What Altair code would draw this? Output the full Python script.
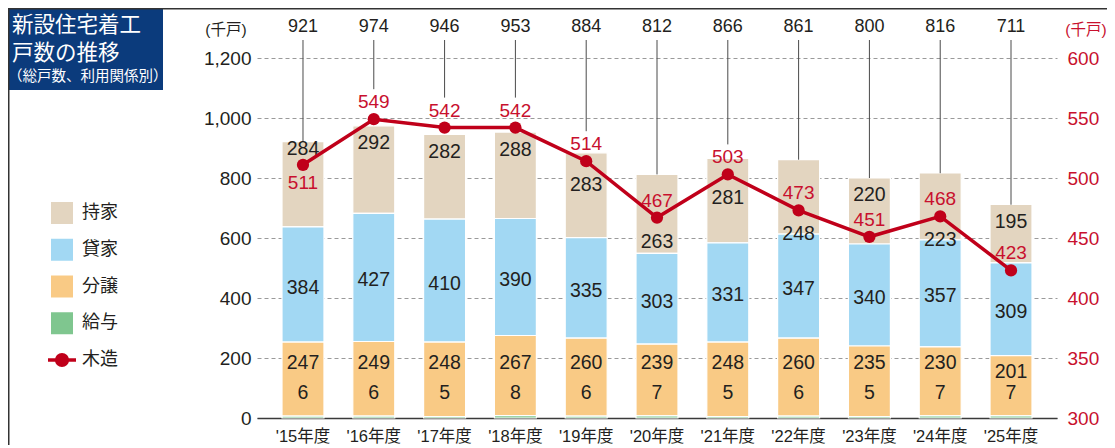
import altair as alt
import pandas as pd

# ---------------- data ----------------
years = ["'15年度", "'16年度", "'17年度", "'18年度", "'19年度", "'20年度",
         "'21年度", "'22年度", "'23年度", "'24年度", "'25年度"]
totals = [921, 974, 946, 953, 884, 812, 866, 861, 800, 816, 711]
own = [284, 292, 282, 288, 283, 263, 281, 248, 220, 223, 195]        # 持家
rent = [384, 427, 410, 390, 335, 303, 331, 347, 340, 357, 309]       # 貸家
sale = [247, 249, 248, 267, 260, 239, 248, 260, 235, 230, 201]       # 分譲
company = [6, 6, 5, 8, 6, 7, 5, 6, 5, 7, 7]                          # 給与
wood = [511, 549, 542, 542, 514, 467, 503, 473, 451, 468, 423]       # 木造

series_keys = ["own", "rent", "sale", "company"]
series_names = ["持家", "貸家", "分譲", "給与"]
line_name = "木造"
left_ticks = [0, 200, 400, 600, 800, 1000, 1200]
right_ticks = [300, 350, 400, 450, 500, 550, 600]
unit_label = "(千戸)"
title_lines = ["新設住宅着工", "戸数の推移"]
subtitle = "（総戸数、利用関係別）"

# ---------------- styles ----------------
colors = ["#e3d5c0", "#a2d8f3", "#f9ca85", "#7fc68f"]
RED = "#c0001a"
RED_TEXT = "#c8102e"
NAVY = "#0b3b7c"
TEXT = "#231f20"
FONT = "Liberation Sans, Noto Sans CJK JP, sans-serif"
JFONT = "Noto Sans CJK JP, sans-serif"

df = pd.DataFrame({"year": years, "own": own, "rent": rent, "sale": sale,
                   "company": company, "total": totals, "wood": wood})
legend_names = series_names + [line_name]
color_scale = alt.Scale(domain=legend_names, range=colors + [RED])

X = alt.X("year:N", sort=years, title=None,
          scale=alt.Scale(paddingInner=0.407, paddingOuter=0.353),
          axis=alt.Axis(labelFont=FONT, labelFontSize=16.5, labelColor=TEXT,
                        labelPadding=10, labelAngle=0, ticks=False,
                        domainColor="#3a3a3a", domainWidth=1.6, grid=False))

YL_scale = alt.Scale(domain=[0, 1200], nice=False, zero=True)
YL_axis = alt.Axis(values=left_ticks, format=",.0f", labelFont=FONT, labelFontSize=19,
                   labelColor=TEXT, labelPadding=6, ticks=False, domain=False,
                   grid=True, gridColor="#9a9a9a", gridDash=[4, 3], gridWidth=1,
                   title=None)


def YL(field):
    return alt.Y(field, type="quantitative", scale=YL_scale, axis=YL_axis)


YR_scale = alt.Scale(domain=[300, 600], nice=False, zero=False)
YR_axis = alt.Axis(orient="right", values=right_ticks, format=".0f", labelFont=FONT,
                   labelFontSize=19, labelColor=RED_TEXT, labelPadding=10, ticks=False,
                   domain=False, grid=False, title=None)


def YR(field):
    return alt.Y(field, type="quantitative", scale=YR_scale, axis=YR_axis)


# label placement rules (derived from the values, in data units of the left axis)
base = alt.Chart(df).transform_calculate(
    top="datum.own + datum.rent + datum.sale + datum.company",
    wp="(datum.wood - 300) * 4",
).transform_calculate(
    d="datum.top - 40 - datum.wp",
    ownTop="datum.top - 58",
).transform_calculate(
    redBelow="datum.d > 25 && datum.d < 55",
    conflict="abs(datum.ownTop - datum.wp) < 70 || abs(datum.ownTop - datum.wp - 57) < 75",
).transform_calculate(
    ownLab="datum.redBelow ? datum.top - 25 : (datum.conflict ? datum.wp - 80 : datum.ownTop)",
    leadEnd="datum.redBelow ? datum.total : max(datum.total, datum.wp + 100)",
    redLab="datum.redBelow ? datum.wood - 15 : datum.wood + 14.2",
    zero="0",
    saleLab="min(datum.company + datum.sale - 55, 185)",
    rentMid="datum.company + datum.sale + datum.rent / 2",
)

# ---------------- left group (bars) ----------------
bars = alt.Chart(df).transform_fold(
    series_keys, as_=["key", "value"]
).transform_calculate(
    kind="{'own': '持家', 'rent': '貸家', 'sale': '分譲', 'company': '給与'}[datum.key]",
    ord="indexof(['company', 'sale', 'rent', 'own'], datum.key)",
).transform_stack(
    stack="value", groupby=["year"], as_=["v0", "v1"],
    sort=[alt.SortField("ord", order="ascending")]
).mark_bar(stroke="white", strokeWidth=1.2).encode(
    x=X, y=YL("v0"), y2="v1:Q",
    color=alt.Color("kind:N", scale=color_scale, legend=None),
)

txt = dict(font=FONT, fontSize=19.5, color=TEXT, baseline="middle")
lab_company = base.mark_text(dy=-25, **txt).encode(x=X, y=YL("zero"), text="company:Q")
lab_sale = base.mark_text(**txt).encode(x=X, y=YL("saleLab"), text="sale:Q")
lab_rent = base.mark_text(dy=3, **txt).encode(x=X, y=YL("rentMid"), text="rent:Q")
lab_own = base.mark_text(**txt).encode(x=X, y=YL("ownLab"), text="own:Q")

leaders = base.mark_rule(color="#4a4a4a", strokeWidth=1).encode(
    x=X, y=YL("leadEnd"), y2=alt.value(-18))
total_lab = base.mark_text(font=FONT, fontSize=18, color=TEXT, baseline="middle").encode(
    x=X, y=alt.value(-31), text="total:Q")

left = alt.layer(bars, leaders, lab_company, lab_sale, lab_rent, lab_own, total_lab)

# ---------------- right group (wooden line) ----------------
wline = base.mark_line(color=RED, strokeWidth=3.5).encode(x=X, y=YR("wood"))
wpts = base.mark_circle(color=RED, size=150, opacity=1).encode(x=X, y=YR("wood"))
wlab = base.mark_text(font=FONT, fontSize=19, color=RED_TEXT, baseline="middle").encode(
    x=X, y=YR("redLab"), text="wood:Q")
right = alt.layer(wline, wpts, wlab)

# ---------------- legend / decorations ----------------
ldf = pd.DataFrame({"name": legend_names, "kind": ["box"] * len(series_names) + ["line"]})
LY = alt.Y("name:N", scale=alt.Scale(type="point", domain=legend_names, range=[155, 302], padding=0),
           axis=None)
lchart = alt.Chart(ldf)
leg_sq = lchart.transform_filter("datum.kind == 'box'").mark_square(size=484, opacity=1).encode(
    x=alt.value(-195), y=LY, color=alt.Color("name:N", scale=color_scale, legend=None))
leg_line = lchart.transform_filter("datum.kind == 'line'").mark_rule(color=RED, strokeWidth=3.5).encode(
    x=alt.value(-209), x2=alt.value(-181), y=LY)
leg_pt = lchart.transform_filter("datum.kind == 'line'").mark_circle(color=RED, size=200, opacity=1).encode(
    x=alt.value(-195), y=LY)
leg_txt = lchart.mark_text(align="left", baseline="middle", font=JFONT, fontSize=18, color=TEXT).encode(
    x=alt.value(-175), y=LY, text="name:N")

one = alt.Chart(pd.DataFrame({"u": [unit_label]}))
unit_left = one.mark_text(font=FONT, fontSize=15.5, color=TEXT, baseline="middle", align="center").encode(
    x=alt.value(-31), y=alt.value(-28), text="u:N")
unit_right = one.mark_text(font=FONT, fontSize=15.5, color=RED_TEXT, baseline="middle", align="center").encode(
    x=alt.value(829), y=alt.value(-28), text="u:N")

title_box = one.mark_rect(color=NAVY).encode(
    x=alt.value(-252), x2=alt.value(-94), y=alt.value(-50), y2=alt.value(32))
tdf = pd.DataFrame({"t": title_lines + [subtitle], "i": [0, 1, 2]})
t1 = alt.Chart(tdf).transform_filter("datum.i == 0").mark_text(
    font=JFONT, fontSize=21.5, color="white", align="left", baseline="middle").encode(
    x=alt.value(-245), y=alt.value(-32), text="t:N")
t2 = alt.Chart(tdf).transform_filter("datum.i == 1").mark_text(
    font=JFONT, fontSize=21.5, color="white", align="left", baseline="middle").encode(
    x=alt.value(-245), y=alt.value(-4), text="t:N")
t3 = alt.Chart(tdf).transform_filter("datum.i == 2").mark_text(
    font=JFONT, fontSize=14.5, color="white", align="left", baseline="middle").encode(
    x=alt.value(-249), y=alt.value(19), text="t:N")

top_border = one.mark_rule(color="#333333", strokeWidth=1.5).encode(
    x=alt.value(-249), x2=alt.value(860), y=alt.value(-49.25))
left_border = one.mark_rule(color="#333333", strokeWidth=1.5).encode(
    x=alt.value(-248.25), y=alt.value(-50), y2=alt.value(400))

deco = alt.layer(leg_sq, leg_line, leg_pt, leg_txt, unit_left, unit_right,
                 title_box, t1, t2, t3, top_border, left_border)

chart = alt.layer(left, right, deco).resolve_scale(y="independent").properties(
    width=800, height=360,
    padding={"left": 249, "top": 50, "right": 50, "bottom": 27},
    autosize=alt.AutoSizeParams(type="none"),
    background="white",
).configure_view(stroke=None)

chart.save("out.html", embed_options={"renderer": "svg", "actions": False})
